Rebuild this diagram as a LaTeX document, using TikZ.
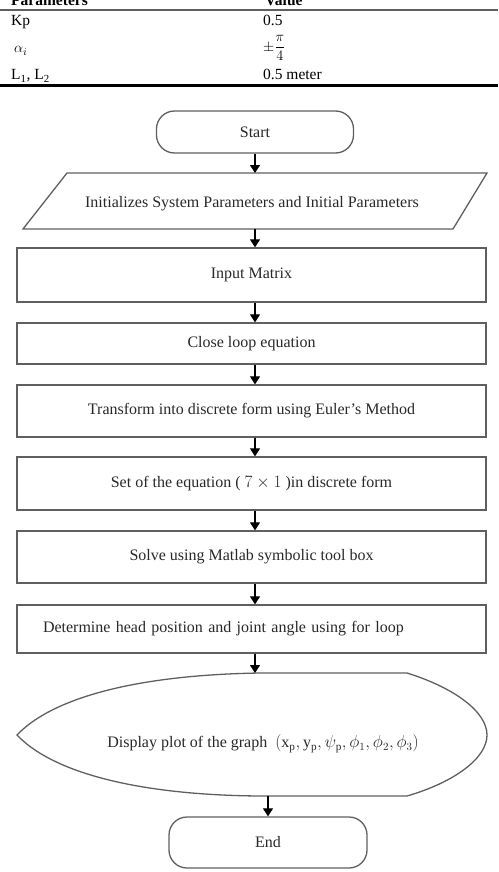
\documentclass[tikz,border=0pt]{standalone}
\usepackage{amsmath}
\usepackage{fontspec}
\setmainfont{Liberation Serif}
\usetikzlibrary{arrows.meta}
\definecolor{boxLine}{RGB}{95, 95, 95}
\definecolor{txtGray}{RGB}{40, 40, 40}
\tikzset{
  flowbox/.style={draw=boxLine, line width=1.3pt, minimum width=469pt, inner sep=0pt, text=txtGray},
  termbox/.style={flowbox, rounded corners=18pt},
  flowarr/.style={-{Triangle[length=8pt, width=10pt]}, line width=1.2pt},
  cell/.style={inner sep=0pt, anchor=base west}
}
\begin{document}
\begin{tikzpicture}[x=1pt, y=-1pt, font=\fontsize{16}{19}\selectfont]
  \useasboundingbox (0,0) rectangle (498,872);
  \clip (0,0) rectangle (498,872);

  % Parameter table
  \begin{scope}[font=\fontsize{15.5}{18}\selectfont]
    \node[cell, font=\fontsize{15.5}{18}\selectfont\bfseries] (hPar) at (11,6) {Parameters};
    \node[cell, font=\fontsize{15.5}{18}\selectfont\bfseries] (hVal) at (265,6) {Value};
    \node[cell] (pKp) at (11,26) {Kp};
    \node[cell] (vKp) at (263,26) {0.5};
    \node[cell] (pAlpha) at (14,53) {$\alpha_i$};
    \node[inner sep=0pt, anchor=west] (vAlpha) at (263,48) {$\pm\dfrac{\pi}{4}$};
    \node[cell] (pLen) at (11,80) {L\textsubscript{1}, L\textsubscript{2}};
    \node[cell] (vLen) at (263,80) {0.5 meter};
  \end{scope}
  \draw[line width=1.3pt, boxLine] (0,10) -- (498,10);
  \draw[line width=3pt] (0,86) -- (498,86);

  % Flowchart
  \node[termbox, minimum width=197pt, minimum height=42pt] (start) at (255,132) {Start};

  \coordinate (initN) at (255,173);
  \coordinate (initS) at (255,229);
  \draw[boxLine, line width=1.3pt] (67,173) -- (487,173) -- (453,229) -- (23,229) -- cycle;
  \node[text=txtGray] (init) at (252,204) {Initializes System Parameters and Initial Parameters};

  \node[flowbox, minimum height=54pt] (input) at (251.5,275) {Input Matrix};
  \node[flowbox, minimum height=41pt] (close) at (251.5,343.5) {Close loop equation};
  \node[flowbox, minimum height=52pt] (euler) at (251.5,411) {Transform into discrete form using Euler’s Method};
  \node[flowbox, minimum height=53pt] (discr) at (251.5,483.5) {Set of the equation ( $7\times1$ )in discrete form};
  \node[flowbox, minimum height=52pt] (solve) at (251.5,557) {Solve using Matlab symbolic tool box};
  \node[flowbox, minimum height=48pt, text width=417pt, align=left] (loop) at (251.5,629)
    {Determine head position and joint angle using for loop};

  % Display symbol
  \coordinate (dispN) at (255,673);
  \coordinate (dispS) at (268,796);
  \draw[boxLine, line width=1.3pt] (407,673) -- (260,673)
    .. controls (130,675) and (50,700) .. (17,735)
    .. controls (50,770) and (130,795) .. (260,796) -- (407,796)
    .. controls (455,782) and (487,758) .. (487,735)
    .. controls (487,712) and (455,688) .. (407,673) -- cycle;
  \node[text=txtGray] (disp) at (263,744)
    {Display plot of the graph\ \ $(\mathrm{x_p}, \mathrm{y_p}, \psi_{\mathrm{p}}, \phi_1, \phi_2, \phi_3)$};

  \node[termbox, minimum width=198pt, minimum height=51pt] (finish) at (268,842.5) {End};

  % Connectors
  \draw[flowarr] (start.south) -- (initN);
  \draw[flowarr] (initS) -- (input.north -| initS);
  \foreach \a/\b in {input/close, close/euler, euler/discr, discr/solve, solve/loop}
    \draw[flowarr] (\a.south -| initS) -- (\b.north -| initS);
  \draw[flowarr] (loop.south -| initS) -- (dispN);
  \draw[flowarr] (dispS) -- (finish.north);
\end{tikzpicture}
\end{document}
